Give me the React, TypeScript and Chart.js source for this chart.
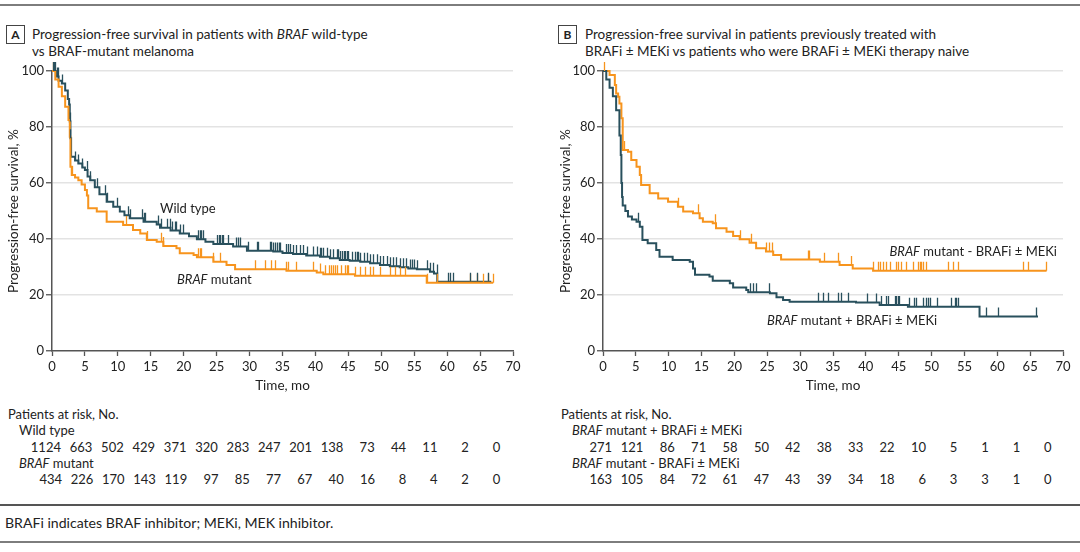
import React, { useEffect, useRef } from "react";
import { Chart, registerables } from "chart.js";

Chart.register(...registerables);

// ---------- DATA ----------
const xTickStep = 5;
const xMax = 70;
const yTickStep = 20;

// Panel A: BRAF wild type
const wtTime = [0, 0.6, 1.0, 1.5, 2.0, 2.4, 2.6, 2.7, 2.8, 2.9, 3.5, 4.0, 4.6, 5.0, 5.4, 5.8, 6.5, 7.2, 8.3, 9.3, 10.3, 11.0, 11.8, 13.9, 15.9, 16.4, 18.0, 19.4, 20.8, 22.0, 23.3, 24.5, 27.5, 29.6, 33.6, 35.0, 36.6, 38.6, 40.7, 42.2, 43.7, 45.2, 46.8, 48.3, 49.8, 51.3, 52.8, 54.1, 55.4, 57.4, 58.0, 58.5, 66.7];
const wtSurv = [100, 98, 96.5, 95.5, 93, 90, 88, 82, 76, 69.4, 68, 67, 65.5, 64.6, 62.3, 61, 58.5, 56, 53.3, 51.5, 49.8, 48.5, 47.4, 46.2, 45.2, 44.0, 43, 42.0, 41, 39.9, 39, 38.2, 37.3, 35.8, 35.5, 35, 34.6, 34.1, 33.7, 33.1, 32.5, 32.2, 31.9, 31.3, 30.7, 30.3, 29.9, 29.5, 29.2, 28.3, 27.7, 24.7, 24.7];
const wtCensor = [0.1, 0.3, 0.5, 0.7, 0.9, 1.5, 2.7, 2.8, 3.5, 4.0, 4.6, 5.3, 5.8, 6.8, 8.0, 8.3, 9.8, 11.6, 11.8, 13.6, 13.9, 14.1, 16.1, 16.6, 17.4, 17.9, 18.2, 18.7, 18.9, 19.4, 19.9, 22.2, 22.5, 22.7, 23.0, 25.0, 25.3, 25.5, 25.8, 26.0, 26.8, 28.0, 28.3, 28.5, 29.8, 31.1, 31.3, 33.1, 33.3, 33.6, 33.8, 34.1, 34.4, 34.6, 35.6, 35.9, 36.1, 36.6, 37.1, 37.6, 38.1, 38.7, 39.7, 40.2, 40.7, 40.9, 41.2, 41.7, 42.2, 42.7, 43.2, 43.5, 43.7, 44.0, 44.3, 44.5, 44.8, 45.0, 45.5, 46.0, 46.3, 46.5, 46.8, 47.3, 47.8, 48.3, 48.8, 49.3, 49.8, 50.3, 50.8, 51.3, 51.8, 52.3, 52.8, 53.3, 53.8, 54.3, 54.6, 55.0, 55.4, 56.9, 57.4, 57.9, 58.4, 60.2, 60.4, 60.9, 63.5, 64.5, 66.2];

// Panel A: BRAF mutant
const bmTime = [0, 0.5, 1.0, 1.5, 2.0, 2.5, 2.7, 2.8, 3.0, 3.5, 4.0, 4.5, 5.0, 5.3, 5.5, 6.8, 8.3, 10.8, 12.3, 13.4, 14.4, 15.9, 16.9, 18.9, 19.4, 21.5, 22.0, 24.5, 26.5, 27.8, 35.6, 40.2, 41.2, 46.0, 56.9, 67.0];
const bmSurv = [100, 97, 94.4, 91, 87.2, 82.5, 76.5, 65.8, 62.9, 62, 61, 59.5, 57.5, 55.5, 51, 49.8, 46.2, 45, 43.2, 42, 39.6, 39, 37.5, 36.7, 34.9, 34.3, 33.5, 31.9, 30.7, 29.2, 28.7, 28, 27.4, 26.9, 24.4, 24.4];
const bmCensor = [0.2, 3.0, 11.3, 14.4, 16.6, 16.9, 22.2, 22.5, 22.7, 24.5, 25.5, 30.8, 32.3, 33.3, 33.8, 35.6, 35.9, 37.1, 39.7, 40.7, 41.5, 42.0, 42.3, 42.6, 42.9, 43.2, 43.9, 44.5, 44.8, 45.0, 46.0, 46.8, 47.5, 48.3, 48.8, 49.8, 51.3, 52.1, 52.8, 53.6, 56.9, 58.4, 63.5, 64.5, 65.5, 66.2, 67.0];

// Panel B: BRAF mutant + BRAFi ± MEKi
const bPlusTime = [0, 0.5, 1.0, 1.5, 2.0, 2.5, 2.7, 2.8, 2.9, 3.0, 3.4, 3.8, 4.4, 5.1, 5.6, 6.0, 6.8, 8.1, 8.6, 10.6, 13.2, 13.7, 14.0, 16.2, 16.7, 19.3, 19.8, 21.8, 22.1, 25.4, 26.4, 27.4, 28.4, 38.5, 42.1, 46.4, 57.3, 66.2];
const bPlusSurv = [100, 97, 94, 91, 86, 77, 70, 60, 55, 52, 50, 48, 47, 46.2, 44.4, 39.6, 38.5, 36.1, 33.7, 32.5, 31.9, 29.5, 27.2, 26.6, 25.1, 24.2, 22.7, 21.8, 21.0, 20.6, 19.2, 18.2, 17.6, 17.3, 16.4, 15.8, 12.3, 12.3];
const bPlusCensor = [5.3, 22.3, 22.8, 23.3, 25.3, 32.7, 33.5, 34.2, 35.7, 36.2, 37.3, 40.1, 41.6, 42.3, 43.1, 43.4, 44.4, 44.6, 44.9, 45.1, 46.6, 47.4, 47.7, 48.7, 49.2, 49.4, 49.7, 50.9, 53.0, 53.5, 53.7, 54.0, 58.3, 60.1, 65.9];

// Panel B: BRAF mutant - BRAFi ± MEKi
const bMinusTime = [0, 1.0, 1.8, 2.0, 2.3, 2.5, 2.8, 3.0, 3.8, 4.3, 5.1, 5.6, 5.8, 7.1, 8.4, 9.9, 11.4, 12.2, 13.7, 14.7, 15.2, 16.7, 17.2, 18.8, 19.8, 20.8, 22.3, 23.3, 24.8, 25.9, 27.1, 33.0, 36.0, 38.0, 41.1, 67.5];
const bMinusSurv = [100, 98.6, 95, 92, 90.8, 88.4, 83.1, 71.8, 71.2, 68.2, 65.8, 62.9, 59.3, 56.3, 54.5, 53.3, 51.5, 49.8, 49.2, 47.4, 46.2, 45.6, 43.8, 42.6, 41.1, 39.9, 38.7, 36.7, 35.5, 34.3, 32.7, 31.9, 30.7, 29.5, 28.7, 28.7];
const bMinusCensor = [0.2, 3.2, 11.4, 14.4, 17.0, 17.1, 20.8, 22.5, 24.8, 25.3, 25.7, 31.2, 31.4, 33.7, 35.7, 37.8, 41.1, 41.8, 42.1, 42.6, 43.1, 43.6, 44.6, 44.9, 45.4, 46.1, 47.1, 47.9, 48.2, 48.4, 48.7, 49.2, 52.5, 53.2, 54.0, 63.9, 64.6, 67.4];

// Patients at risk
const wtRisk = [1124, 663, 502, 429, 371, 320, 283, 247, 201, 138, 73, 44, 11, 2, 0];
const bmRisk = [434, 226, 170, 143, 119, 97, 85, 77, 67, 40, 16, 8, 4, 2, 0];
const bPlusRisk = [271, 121, 86, 71, 58, 50, 42, 38, 33, 22, 10, 5, 1, 1, 0];
const bMinusRisk = [163, 105, 84, 72, 61, 47, 43, 39, 34, 18, 6, 3, 3, 1, 0];

// ---------- STYLE ----------
const TEAL = "#29505d";
const ORANGE = "#f7941d";
const TEXT = "#222222";
const AXIS = "#555555";
const FONT = "Lato, 'Open Sans', sans-serif";

type Series = { time: number[]; surv: number[]; censor: number[]; color: string };

function survAt(times: number[], surv: number[], t: number) {
  let s = surv[0];
  for (let i = 0; i < times.length; i++) if (times[i] <= t) s = surv[i];
  return s;
}

function makeCensorPlugin(series: Series[]) {
  return {
    id: "censorMarks",
    afterDatasetsDraw(chart: any) {
      const { ctx, scales } = chart;
      const xs = scales.x;
      const ys = scales.y;
      ctx.save();
      for (const s of series) {
        ctx.strokeStyle = s.color;
        ctx.lineWidth = 1.3;
        ctx.beginPath();
        for (const t of s.censor) {
          const px = Math.round(xs.getPixelForValue(t)) + 0.5;
          const py = ys.getPixelForValue(survAt(s.time, s.surv, t));
          ctx.moveTo(px, py);
          ctx.lineTo(px, py - 9);
        }
        ctx.stroke();
      }
      ctx.restore();
    },
  };
}

function KMChart(props: { series: Series[]; yAxisWidth: number; rightPad: number; yTitlePad: number }) {
  const ref = useRef<HTMLCanvasElement>(null);
  useEffect(() => {
    const { series, yAxisWidth, rightPad, yTitlePad } = props;
    const tickFont = { family: FONT, size: 13 };
    const chart = new Chart(ref.current as HTMLCanvasElement, {
      type: "line",
      data: {
        datasets: series.map((s) => ({
          data: s.time.map((t, i) => ({ x: t, y: s.surv[i] })),
          borderColor: s.color,
          backgroundColor: s.color,
          borderWidth: 2,
          pointRadius: 0,
          stepped: "before" as const,
          fill: false,
          clip: false as any,
        })),
      },
      options: {
        animation: false,
        responsive: false,
        events: [],
        layout: { padding: { top: 11, right: rightPad, left: 0, bottom: 0 } },
        plugins: { legend: { display: false }, tooltip: { enabled: false } },
        scales: {
          x: {
            type: "linear",
            min: 0,
            max: xMax,
            ticks: { stepSize: xTickStep, color: TEXT, font: tickFont, padding: 3, maxRotation: 0, autoSkip: false },
            grid: { display: true, drawOnChartArea: false, drawTicks: true, tickLength: 5, tickColor: AXIS, tickWidth: 1.3 },
            border: { display: true, color: AXIS, width: 1.5 },
            title: { display: true, text: "Time, mo", color: TEXT, font: { family: FONT, size: 13.5 }, padding: { top: 0, bottom: 6 } },
            afterFit: (s: any) => {
              s.height = 49;
            },
          },
          y: {
            min: 0,
            max: 100,
            ticks: { stepSize: yTickStep, color: TEXT, font: tickFont, padding: 2 },
            grid: {
              color: (c: any) => (c.tick && c.tick.value === 0 ? "rgba(0,0,0,0)" : "#e3e3e3"),
              lineWidth: 1.5,
              tickColor: AXIS,
              tickLength: 6,
              tickWidth: 1.3,
            },
            border: { display: true, color: AXIS, width: 1.5 },
            title: {
              display: true,
              text: "Progression-free survival, %",
              color: TEXT,
              font: { family: FONT, size: 13.5 },
              padding: { top: yTitlePad, bottom: 0 },
            },
            afterFit: (s: any) => {
              s.width = yAxisWidth;
            },
          },
        },
      } as any,
      plugins: [makeCensorPlugin(series)],
    });
    return () => chart.destroy();
  }, []);
  return <canvas ref={ref} width={540} height={340} style={{ display: "block" }} />;
}

const abs = (left: number, top: number, extra: React.CSSProperties = {}): React.CSSProperties => ({
  position: "absolute",
  left,
  top,
  whiteSpace: "nowrap",
  ...extra,
});

function Box({ left, letter }: { left: number; letter: string }) {
  return (
    <div
      style={abs(left, 25, {
        width: 17,
        height: 17,
        border: "1px solid #444",
        fontWeight: 700,
        fontSize: 12,
        lineHeight: "17px",
        textAlign: "center",
      })}
    >
      {letter}
    </div>
  );
}

function RiskRow({ values, firstRight, step, top }: { values: number[]; firstRight: number; step: number; top: number }) {
  return (
    <>
      {values.map((v, i) => (
        <div key={i} style={abs(firstRight + i * step - 40, top, { width: 40, textAlign: "right" })}>
          {v}
        </div>
      ))}
    </>
  );
}

export default function App() {
  const seriesA: Series[] = [
    { time: bmTime, surv: bmSurv, censor: bmCensor, color: ORANGE },
    { time: wtTime, surv: wtSurv, censor: wtCensor, color: TEAL },
  ];
  const seriesB: Series[] = [
    { time: bPlusTime, surv: bPlusSurv, censor: bPlusCensor, color: TEAL },
    { time: bMinusTime, surv: bMinusSurv, censor: bMinusCensor, color: ORANGE },
  ];
  const titleStyle: React.CSSProperties = { fontSize: 13.5, lineHeight: "17px" };
  const smallStyle: React.CSSProperties = { fontSize: 13, lineHeight: "16px" };
  return (
    <div
      style={{
        position: "fixed",
        left: 0,
        top: 0,
        width: 1080,
        height: 552,
        overflow: "hidden",
        background: "#fff",
        fontFamily: FONT,
        color: TEXT,
      }}
    >
      <div style={abs(0, 4, { width: 1080, height: 2, background: "#7d7d7d" })} />

      {/* Panel A header */}
      <Box left={6} letter="A" />
      <div style={abs(32, 26, titleStyle)}>
        Progression-free survival in patients with <i>BRAF</i> wild-type
      </div>
      <div style={abs(32, 43, titleStyle)}>vs BRAF-mutant melanoma</div>

      {/* Panel B header */}
      <Box left={558} letter="B" />
      <div style={abs(585, 26, titleStyle)}>Progression-free survival in patients previously treated with</div>
      <div style={abs(585, 43, titleStyle)}>BRAFi ± MEKi vs patients who were BRAFi ± MEKi therapy naive</div>

      {/* Charts */}
      <div style={abs(0, 60)}>
        <KMChart series={seriesA} yAxisWidth={52} rightPad={27} yTitlePad={6} />
      </div>
      <div style={abs(540, 60)}>
        <KMChart series={seriesB} yAxisWidth={63} rightPad={17} yTitlePad={18} />
      </div>

      {/* In-plot labels */}
      <div style={abs(160, 200, smallStyle)}>Wild type</div>
      <div style={abs(177, 271, smallStyle)}>
        <i>BRAF</i> mutant
      </div>
      <div style={abs(857, 243, { ...smallStyle, width: 200, textAlign: "right" })}>
        <i>BRAF</i> mutant - BRAFi ± MEKi
      </div>
      <div style={abs(767, 312, smallStyle)}>
        <i>BRAF</i> mutant + BRAFi ± MEKi
      </div>

      {/* Risk table A */}
      <div style={abs(8, 406, smallStyle)}>Patients at risk, No.</div>
      <div style={abs(19, 422, smallStyle)}>Wild type</div>
      <div style={smallStyle}>
        <RiskRow values={wtRisk} firstRight={61} step={31.37} top={439} />
      </div>
      <div style={abs(19, 455, smallStyle)}>
        <i>BRAF</i> mutant
      </div>
      <div style={smallStyle}>
        <RiskRow values={bmRisk} firstRight={62} step={31.3} top={471} />
      </div>

      {/* Risk table B */}
      <div style={abs(561, 406, smallStyle)}>Patients at risk, No.</div>
      <div style={abs(572, 422, smallStyle)}>
        <i>BRAF</i> mutant + BRAFi ± MEKi
      </div>
      <div style={smallStyle}>
        <RiskRow values={bPlusRisk} firstRight={612} step={31.4} top={439} />
      </div>
      <div style={abs(572, 455, smallStyle)}>
        <i>BRAF</i> mutant - BRAFi ± MEKi
      </div>
      <div style={smallStyle}>
        <RiskRow values={bMinusRisk} firstRight={612} step={31.4} top={471} />
      </div>

      <div style={abs(0, 504, { width: 1080, height: 1.5, background: "#555" })} />
      <div style={abs(5, 514, { fontSize: 14.1, lineHeight: "18px" })}>
        BRAFi indicates BRAF inhibitor; MEKi, MEK inhibitor.
      </div>
      <div style={abs(0, 541, { width: 1080, height: 2, background: "#7d7d7d" })} />
    </div>
  );
}
